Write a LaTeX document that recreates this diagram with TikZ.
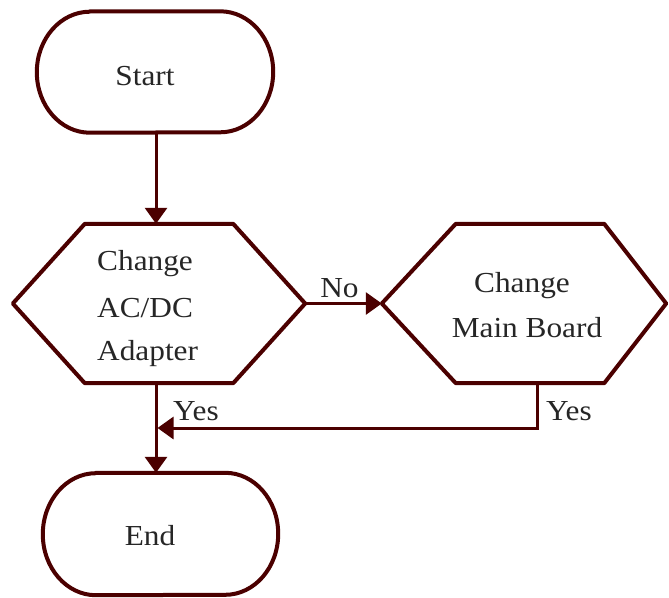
\documentclass[tikz,border=0pt]{standalone}
\usepackage{fontspec}
\setmainfont{Liberation Serif}[FakeStretch=1.08]
\usetikzlibrary{arrows.meta,calc}
\definecolor{mar}{RGB}{75,0,0}
\begin{document}
\begin{tikzpicture}[x=1pt,y=-1pt,
  outline/.style={draw=mar,line width=4pt,line join=round},
  conn/.style={draw=mar,line width=3pt},
  arr/.style={conn,-{Triangle[width=22pt,length=16pt]}},
  shapebox/.style={draw=none,inner sep=0pt},
  txt/.style={font=\fontsize{29}{34}\selectfont,text=black!85,inner sep=0pt}]
\useasboundingbox[fill=white] (0,0) rectangle (669,597);

% shape boxes
\node[shapebox,minimum width=236pt,minimum height=121pt] (start) at (155,72) {};
\node[shapebox,minimum width=292pt,minimum height=159pt] (h1) at (159,303.5) {};
\node[shapebox,minimum width=284pt,minimum height=159pt] (h2) at (524,303.5) {};
\node[shapebox,minimum width=235pt,minimum height=122pt] (end) at (160.5,534) {};

% outlines
\draw[outline] ([xshift=53pt]start.north west) -- ([xshift=-53pt]start.north east)
  arc[start angle=90,end angle=-90,x radius=53pt,y radius=60.5pt]
  -- ([xshift=53pt]start.south west)
  arc[start angle=270,end angle=90,x radius=53pt,y radius=60.5pt] -- cycle;
\draw[outline] ([xshift=53pt]end.north west) -- ([xshift=-53pt]end.north east)
  arc[start angle=90,end angle=-90,x radius=53pt,y radius=61pt]
  -- ([xshift=53pt]end.south west)
  arc[start angle=270,end angle=90,x radius=53pt,y radius=61pt] -- cycle;
\draw[outline] (h1.west) -- ([xshift=72pt]h1.north west) -- ([xshift=-72pt]h1.north east)
  -- (h1.east) -- ([xshift=-72pt]h1.south east) -- ([xshift=72pt]h1.south west) -- cycle;
\draw[outline] (h2.west) -- ([xshift=74pt]h2.north west) -- ([xshift=-62pt]h2.north east)
  -- (h2.east) -- ([xshift=-62pt]h2.south east) -- ([xshift=74pt]h2.south west) -- cycle;

% texts
\node[txt,anchor=base] (tstart) at (145,85) {Start};
\node[txt,anchor=base west] (t1a) at (97,270) {Change};
\node[txt,anchor=base west] (t1b) at (97,317) {AC/DC};
\node[txt,anchor=base west] (t1c) at (97,360) {Adapter};
\node[txt,anchor=base] (t2a) at (522,292) {Change};
\node[txt,anchor=base] (t2b) at (527,337) {Main Board};
\node[txt,anchor=base] (tend) at (150,545) {End};
\node[txt,anchor=base] (lno) at (339.5,297) {No};
\node[txt,anchor=base] (lyes1) at (196,420) {Yes};
\node[txt,anchor=base] (lyes2) at (569,420) {Yes};

% connectors
\coordinate (j) at (156,428);
\draw[arr] (start.south -| j) -- (h1.north -| j);
\draw[arr] (h1.east) -- (h2.west);
\draw[arr] (h1.south -| j) -- (end.north -| j);
\draw[arr,shorten >=1.5pt] ([xshift=13pt]h2.south) |- (j);
\end{tikzpicture}
\end{document}
